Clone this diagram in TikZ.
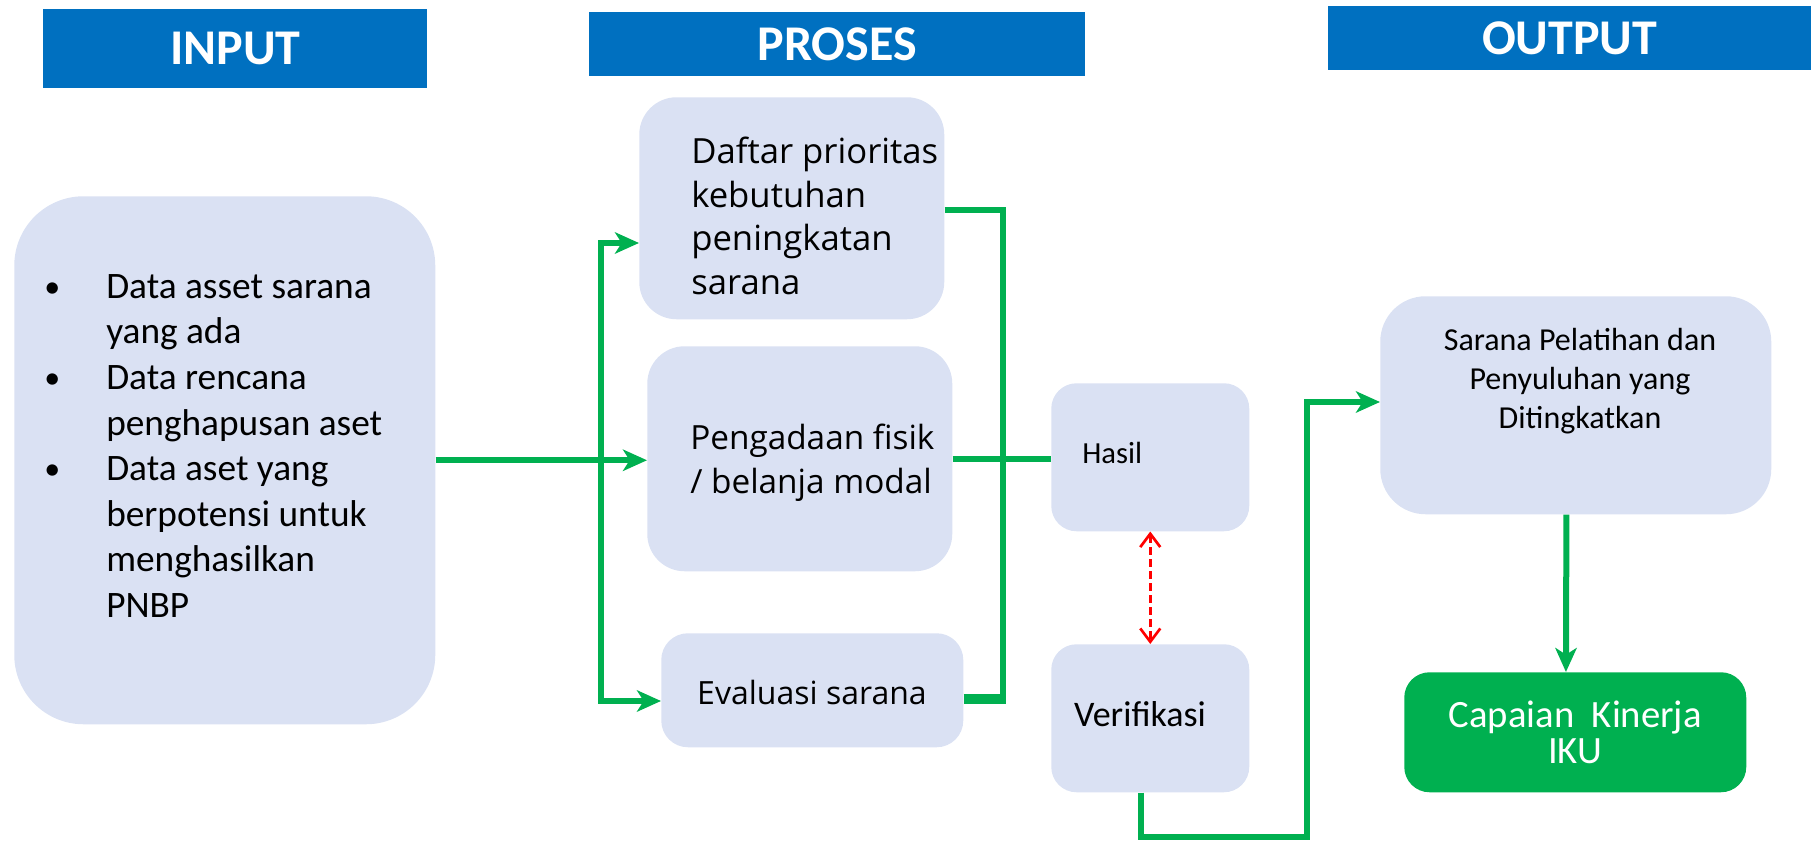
\documentclass[tikz,border=0pt]{standalone}
\usepackage{fontspec}
\setmainfont{Carlito}
\newfontfamily\opensans{Open Sans}
\usetikzlibrary{arrows.meta}

\definecolor{hdrblue}{HTML}{0070C0}
\definecolor{panelfill}{HTML}{DAE1F3}
\definecolor{flowgreen}{HTML}{00B050}
\definecolor{linkred}{HTML}{FF0000}

% bullet column and continuation indent for the input list
\newcommand\bul{\makebox[46.5pt][l]{\raisebox{1pt}{\fontsize{24pt}{24pt}\selectfont\textbullet}}}
\newcommand\cont{\hspace*{46.5pt}}

\begin{document}
\begin{tikzpicture}[x=0.75pt,y=-0.75pt,
  size/.style 2 args={minimum width=#1*0.75pt, minimum height=#2*0.75pt},
  hdr/.style={fill=hdrblue, text=white, inner sep=0pt, anchor=north west,
    font=\fontsize{37.5pt}{45pt}\selectfont\bfseries},
  panel/.style={fill=panelfill, inner sep=0pt, anchor=north west},
  txt/.style={inner sep=0pt, align=left, text=black},
  line/.style={draw=flowgreen, line width=4.5pt},
  flow/.style={line, -{Stealth[length=18pt,width=16pt,inset=5pt]}},
  link/.style={draw=linkred, line width=2pt, dash pattern=on 6pt off 3pt,
    {Straight Barb[length=10pt,width=15pt]}-{Straight Barb[length=10pt,width=15pt]}}
]
\useasboundingbox (0,0) rectangle (1811,841);

% column headers
\node[hdr, size={384}{79}] (hin)  at (43,9)    {INPUT};
\node[hdr, size={496}{64}] (hpro) at (589,12)  {PROSES};
\node[hdr, size={483}{64}] (hout) at (1328,6)  {OUTPUT};

% panels
\node[panel, size={421}{528}, rounded corners=52pt] (input)     at (14,196)  {};
\node[panel, size={305}{222}, rounded corners=28pt] (daftar)    at (639,97)  {};
\node[panel, size={305}{225}, rounded corners=28pt] (pengadaan) at (647,346) {};
\node[panel, size={302}{114}, rounded corners=20pt] (evaluasi)  at (661,633) {};
\node[panel, size={198}{148}, rounded corners=19pt] (hasil)     at (1051,383) {};
\node[panel, size={198}{148}, rounded corners=19pt] (verif)     at (1051,644) {};
\node[panel, size={391}{218}, rounded corners=34pt] (sarana)    at (1380,296) {};
\node[panel, size={342}{120}, rounded corners=19pt, fill=flowgreen, text=white,
  align=center, font=\fontsize{29pt}{26.5pt}\selectfont] (capaian) at (1404,672)
  {Capaian\ \ Kinerja\\IKU};

% panel texts
\node[txt, anchor=west, font=\fontsize{28pt}{34.2pt}\selectfont] (itxt) at (44,446)
  {\bul Data asset sarana\\ \cont yang ada\\ \bul Data rencana\\ \cont penghapusan aset\\
   \bul Data aset yang\\ \cont berpotensi untuk\\ \cont menghasilkan\\ \cont PNBP};
\node[txt, anchor=west, font=\opensans\fontsize{26pt}{32.8pt}\selectfont] (dtxt) at (691,216)
  {Daftar prioritas\\kebutuhan\\peningkatan\\sarana};
\node[txt, anchor=west, font=\opensans\fontsize{25pt}{33pt}\selectfont] (ptxt) at (690,463)
  {Pengadaan fisik\\/ belanja modal};
\node[txt, font=\opensans\fontsize{24pt}{30pt}\selectfont] (etxt) at (812,692)
  {Evaluasi sarana};
\node[txt, anchor=west, font=\fontsize{23pt}{28pt}\selectfont] (htxt) at (1082,453) {Hasil};
\node[txt, font=\fontsize{27pt}{32pt}\selectfont] (vtxt) at (1140,714) {Verifikasi};
\node[txt, align=center, font=\fontsize{24pt}{29pt}\selectfont] (stxt) at (1580,381)
  {Sarana Pelatihan dan\\Penyuluhan yang\\Ditingkatkan};

% input fans out to the three process steps
\coordinate (jt) at (601,243);
\coordinate (jb) at (601,701);
\draw[flow] (input.east) -- (input.east -| pengadaan.west);
\draw[line, {Stealth[length=18pt,width=16pt,inset=5pt]}-{Stealth[length=18pt,width=16pt,inset=5pt]}]
  (jt -| daftar.west) -- (jt) -- (jb) -- (jb -| evaluasi.west);

% process steps collect into the result
\coordinate (rt) at (1003,210);
\coordinate (rb) at (1003,699);
\draw[line] (daftar.east |- rt) -- (rt) -- (rb);
\draw[line, line width=7pt] (evaluasi.east |- rb) -- ([xshift=2.6pt]rb);
\draw[line] (pengadaan.east) -- (pengadaan.east -| hasil.west);

% result checked against verification
\draw[link] (hasil.south) -- (verif.north);

% verification feeds the output
\coordinate (vu) at (1307,402);
\draw[flow] ([xshift=-7pt]verif.south) -- ++(0,44) -| (vu) -- (vu -| sarana.west);
\draw[flow] ([xshift=-7pt]sarana.south) -- ([xshift=-7pt]capaian.north);
\end{tikzpicture}
\end{document}
